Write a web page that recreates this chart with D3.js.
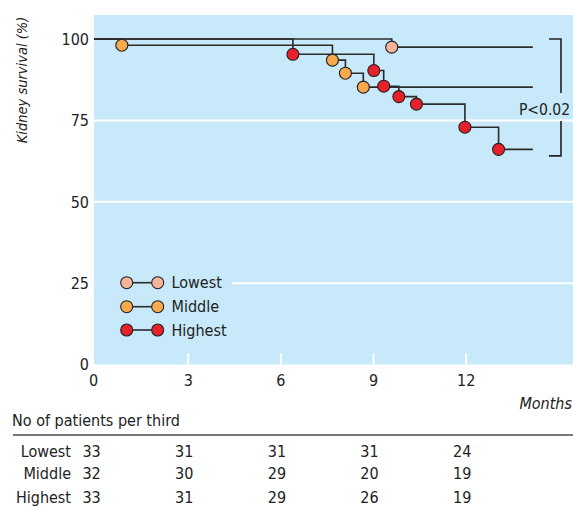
<!DOCTYPE html>
<html>
<head>
<meta charset="utf-8">
<script src="https://cdn.jsdelivr.net/npm/d3@7"></script>
<style>
  html, body { margin: 0; padding: 0; background: #ffffff; }
  svg { display: block; }
  text { font-family: "Liberation Sans Narrow", "Arial Narrow", "DejaVu Sans Condensed", sans-serif; fill: #222; }
</style>
</head>
<body>
<svg id="chart" width="573" height="507"></svg>
<script>
// ---------------- data ----------------
const groups = ["Lowest", "Middle", "Highest"];
const groupColors = ["#f7b49d", "#f8a94d", "#e8202a"];
// event times (months) and survival (%) after each event
const lowestTimes = [9.59];
const lowestSurv = [97.5];
const middleTimes = [0.85, 7.67, 8.09, 8.67];
const middleSurv = [98.1, 93.5, 89.5, 85.2];
const highestTimes = [6.39, 9.01, 9.33, 9.82, 10.39, 11.96, 13.05];
const highestSurv = [95.3, 90.3, 85.5, 82.3, 80.0, 72.9, 66.1];
const followUpEnd = 14.16;

const xTicks = [0, 3, 6, 9, 12];
const yTicks = [0, 25, 50, 75, 100];
const pLabel = "P<0.02";

const tableMonths = [0, 3, 6, 9, 12];
const countsLowest = [33, 31, 31, 31, 24];
const countsMiddle = [32, 30, 29, 20, 19];
const countsHighest = [33, 31, 29, 26, 19];

// ---------------- drawing ----------------
const svg = d3.select("#chart");
const bg = "#c7e9f9";

const x = d3.scaleLinear().domain([0, 15.46]).range([95.6, 573]);
const y = d3.scaleLinear().domain([0, 100]).range([364.5, 39]);

const plotLeft = 94, plotTop = 15, plotRight = 573, plotBottom = y(0);

svg.append("rect")
  .attr("x", plotLeft).attr("y", plotTop)
  .attr("width", plotRight - plotLeft).attr("height", plotBottom - plotTop)
  .attr("fill", bg);

// white horizontal gridlines
svg.append("g").selectAll("line")
  .data(yTicks.filter(v => v > 0 && v < 100))
  .join("line")
  .attr("x1", plotLeft).attr("x2", plotRight)
  .attr("y1", d => y(d)).attr("y2", d => y(d))
  .attr("stroke", "#ffffff").attr("stroke-width", 2);

// white x ticks inside
svg.append("g").selectAll("line")
  .data(xTicks.filter(v => v > 0))
  .join("line")
  .attr("x1", d => x(d)).attr("x2", d => x(d))
  .attr("y1", plotBottom - 11).attr("y2", plotBottom)
  .attr("stroke", "#ffffff").attr("stroke-width", 2);

// y tick labels
svg.append("g").selectAll("text")
  .data(yTicks)
  .join("text")
  .attr("x", 89).attr("y", d => y(d))
  .attr("dy", "0.36em")
  .attr("text-anchor", "end")
  .attr("font-size", 16)
  .text(d => d);

// x tick labels
svg.append("g").selectAll("text")
  .data(xTicks)
  .join("text")
  .attr("x", d => x(d) - (d === 0 ? 2 : 0)).attr("y", 386)
  .attr("text-anchor", "middle")
  .attr("font-size", 16)
  .text(d => d);

// axis titles
svg.append("text")
  .attr("transform", "translate(27,80) rotate(-90)")
  .attr("text-anchor", "middle")
  .attr("font-size", 14.5)
  .attr("font-style", "italic")
  .text("Kidney survival (%)");

svg.append("text")
  .attr("x", 572).attr("y", 409)
  .attr("text-anchor", "end")
  .attr("font-size", 16)
  .attr("font-style", "italic")
  .text("Months");

// legend background (hides gridline)
svg.append("rect")
  .attr("x", plotLeft).attr("y", 266)
  .attr("width", 232 - plotLeft).attr("height", 80)
  .attr("fill", bg);

// curves
const series = [
  { name: groups[0], color: groupColors[0], times: lowestTimes, surv: lowestSurv },
  { name: groups[1], color: groupColors[1], times: middleTimes, surv: middleSurv },
  { name: groups[2], color: groupColors[2], times: highestTimes, surv: highestSurv }
];

const stepLine = d3.line()
  .x(d => x(d[0])).y(d => y(d[1]))
  .curve(d3.curveStepAfter);

series.forEach(s => {
  const pts = [[-0.05, 100]];
  s.times.forEach((t, i) => pts.push([t, s.surv[i]]));
  pts.push([followUpEnd, s.surv[s.surv.length - 1]]);
  svg.append("path")
    .attr("d", stepLine(pts))
    .attr("fill", "none")
    .attr("stroke", "#2b2b2b")
    .attr("stroke-width", 1.6);
});

series.forEach(s => {
  svg.append("g").selectAll("circle")
    .data(s.times.map((t, i) => [t, s.surv[i]]))
    .join("circle")
    .attr("cx", d => x(d[0])).attr("cy", d => y(d[1]))
    .attr("r", 6)
    .attr("fill", s.color)
    .attr("stroke", "#222")
    .attr("stroke-width", 1.1);
});

// bracket + p value
const bTop = y(100);
const bBot = y(highestSurv[highestSurv.length - 1]) + 6.5;
const bx = 561;
svg.append("path")
  .attr("d", `M549,${bTop}H${bx}V93 M${bx},121V${bBot}H549`)
  .attr("fill", "none").attr("stroke", "#222").attr("stroke-width", 1.6);
svg.append("text")
  .attr("x", 544.5).attr("y", 115)
  .attr("text-anchor", "middle")
  .attr("font-size", 15.5)
  .text(pLabel);

// legend
const legY = [282.7, 306.7, 330];
series.forEach((s, i) => {
  const g = svg.append("g");
  g.append("line")
    .attr("x1", 126.7).attr("x2", 157.7)
    .attr("y1", legY[i]).attr("y2", legY[i])
    .attr("stroke", "#2b2b2b").attr("stroke-width", 1.6);
  g.selectAll("circle").data([126.7, 157.7]).join("circle")
    .attr("cx", d => d).attr("cy", legY[i]).attr("r", 6)
    .attr("fill", s.color).attr("stroke", "#222").attr("stroke-width", 1.1);
  g.append("text")
    .attr("x", 171.5).attr("y", legY[i]).attr("dy", "0.36em")
    .attr("font-size", 16)
    .text(s.name);
});

// table
svg.append("text")
  .attr("x", 12).attr("y", 426)
  .attr("font-size", 16)
  .text("No of patients per third");
svg.append("line")
  .attr("x1", 13).attr("x2", 573).attr("y1", 435).attr("y2", 435)
  .attr("stroke", "#777").attr("stroke-width", 2);

const tableRows = [countsLowest, countsMiddle, countsHighest];
const rowY = [451, 473.3, 497.7];
tableRows.forEach((row, i) => {
  svg.append("text")
    .attr("x", 71).attr("y", rowY[i]).attr("dy", "0.36em")
    .attr("text-anchor", "end")
    .attr("font-size", 16)
    .text(groups[i]);
  svg.append("g").selectAll("text")
    .data(row.map((c, j) => [tableMonths[j], c]))
    .join("text")
    .attr("x", d => x(d[0]) - 4).attr("y", rowY[i]).attr("dy", "0.36em")
    .attr("text-anchor", "middle")
    .attr("font-size", 16)
    .text(d => d[1]);
});
</script>
</body>
</html>
